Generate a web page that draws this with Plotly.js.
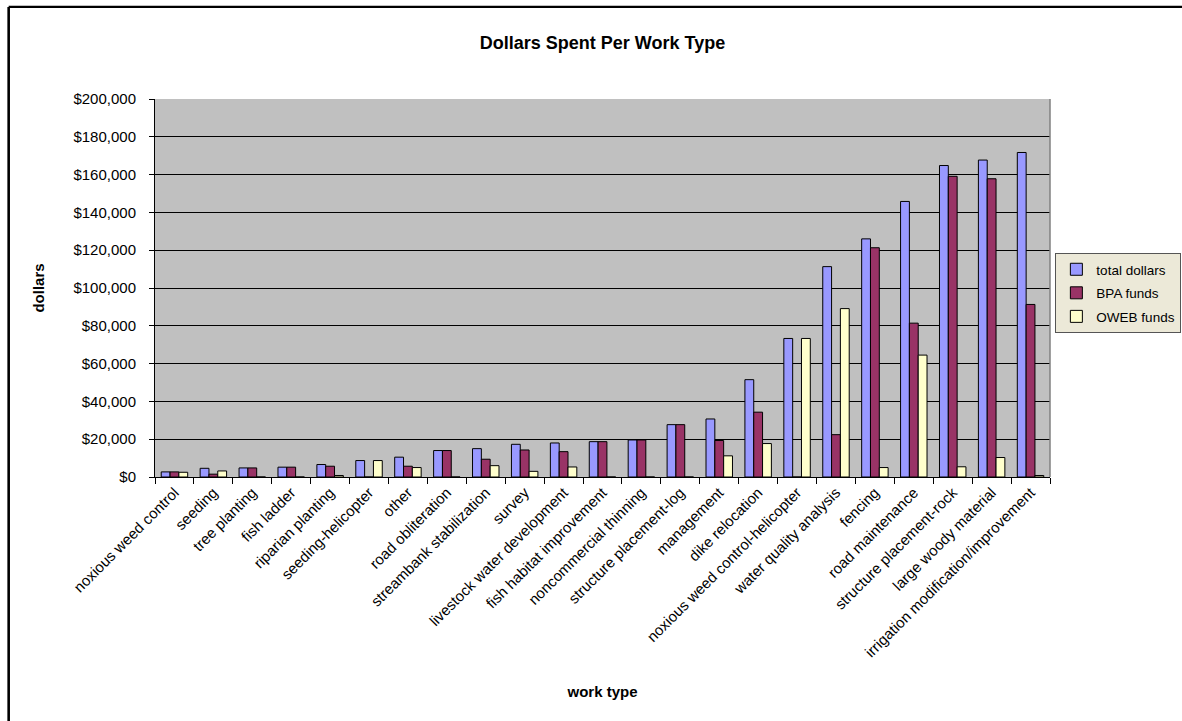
<!DOCTYPE html>
<html>
<head>
<meta charset="utf-8">
<script src="https://cdn.plot.ly/plotly-3.0.1.min.js"></script>
<style>
  html, body { margin: 0; padding: 0; background: #ffffff; }
  #chart { width: 1182px; height: 721px; }
</style>
</head>
<body>
<div id="chart"></div>
<script>
const workTypes = [
  "noxious weed control", "seeding", "tree planting", "fish ladder",
  "riparian planting", "seeding-helicopter", "other", "road obliteration",
  "streambank stabilization", "survey", "livestock water development",
  "fish habitat improvement", "noncommercial thinning", "structure placement-log",
  "management", "dike relocation", "noxious weed control-helicopter",
  "water quality analysis", "fencing", "road maintenance",
  "structure placement-rock", "large woody material",
  "irrigation modification/improvement"
];
const totalDollars = [2700, 4600, 4800, 5200, 6600, 8700, 10500, 14000, 15000, 17300, 18000, 18700, 19600, 27700, 30700, 51500, 73300, 111300, 126000, 145800, 164800, 167700, 171700];
const bpaFunds     = [2700, 1500, 4800, 5200, 5700, 0, 5700, 14000, 9400, 14300, 13400, 18700, 19600, 27700, 19300, 34300, 0, 22400, 121300, 81400, 159100, 157800, 91300];
const owebFunds    = [2500, 3200, 0, 0, 800, 8700, 5000, 0, 6000, 3000, 5300, 0, 0, 0, 11200, 17700, 73300, 89100, 5000, 64500, 5400, 10300, 800];
const seriesNames  = ["total dollars", "BPA funds", "OWEB funds"];
const seriesColors = ["#9999FF", "#993366", "#FFFFCC"];
const yTickValues  = [0, 20000, 40000, 60000, 80000, 100000, 120000, 140000, 160000, 180000, 200000];
const yTickLabels  = ["$0", "$20,000", "$40,000", "$60,000", "$80,000", "$100,000", "$120,000", "$140,000", "$160,000", "$180,000", "$200,000"];

const FONT = "Arial, 'Liberation Sans', sans-serif";
const seriesValues = [totalDollars, bpaFunds, owebFunds];

const traces = seriesValues.map((vals, i) => ({
  type: "bar",
  name: seriesNames[i],
  legendgroup: "g" + i,
  x: workTypes,
  y: vals,
  marker: { color: seriesColors[i], line: { color: "#000000", width: 1 } },
  hoverinfo: "x+y+name"
}));

const layout = {
  width: 1182,
  height: 721,
  margin: { l: 155, r: 132, t: 99, b: 244, pad: 0, autoexpand: false },
  paper_bgcolor: "#ffffff",
  plot_bgcolor: "#C0C0C0",
  font: { family: FONT, size: 15, color: "#000000" },
  barmode: "group",
  bargap: 0.32,
  bargroupgap: 0,
  title: {
    text: "Dollars Spent Per Work Type",
    font: { family: FONT, size: 18, weight: "bold", color: "#000000" },
    x: 0.5, xref: "paper", xanchor: "center",
    y: 0.9404, yref: "container", yanchor: "middle"
  },
  xaxis: {
    type: "category",
    tickangle: -45,
    tickson: "boundaries",
    ticks: "outside",
    ticklen: 6,
    tickcolor: "#000000",
    showline: true,
    linecolor: "#000000",
    linewidth: 1,
    showgrid: false,
    tickfont: { family: FONT, size: 15, color: "#000000" },
    automargin: false,
    title: {
      text: "work type",
      font: { family: FONT, size: 15, weight: "bold", color: "#000000" },
      standoff: 27
    }
  },
  yaxis: {
    range: [0, 200000],
    tickmode: "array",
    tickvals: yTickValues,
    ticktext: yTickLabels,
    ticks: "outside",
    ticklen: 5,
    tickcolor: "#000000",
    ticklabelstandoff: 10,
    showline: true,
    linecolor: "#000000",
    linewidth: 1,
    showgrid: true,
    gridcolor: "#000000",
    gridwidth: 1,
    zeroline: false,
    tickfont: { family: FONT, size: 15, color: "#000000" },
    automargin: false,
    title: {
      text: "dollars",
      font: { family: FONT, size: 15, weight: "bold", color: "#000000" },
      standoff: 25
    }
  },
  legend: {
    x: 1.006, xanchor: "left",
    y: 0.5926, yanchor: "top",
    bgcolor: "#ECE9D8",
    bordercolor: "#555555",
    borderwidth: 1,
    font: { family: FONT, size: 13.5, color: "#000000" },
    itemwidth: 30,
    tracegroupgap: 3
  },
  shapes: [
    { type: "line", xref: "paper", yref: "paper", x0: 1, x1: 1, y0: 0, y1: 1,
      line: { color: "#808080", width: 1.5 } },
    { type: "line", xref: "paper", yref: "paper", x0: -0.1635, x1: -0.1635, y0: -1, y1: 1.2437,
      line: { color: "#000000", width: 2.6 } },
    { type: "line", xref: "paper", yref: "paper", x0: -0.1635, x1: 2, y0: 1.2437, y1: 1.2437,
      line: { color: "#000000", width: 2.2 } }
  ],
  showlegend: true
};

Plotly.newPlot("chart", traces, layout, { displayModeBar: false, staticPlot: true });
</script>
</body>
</html>
